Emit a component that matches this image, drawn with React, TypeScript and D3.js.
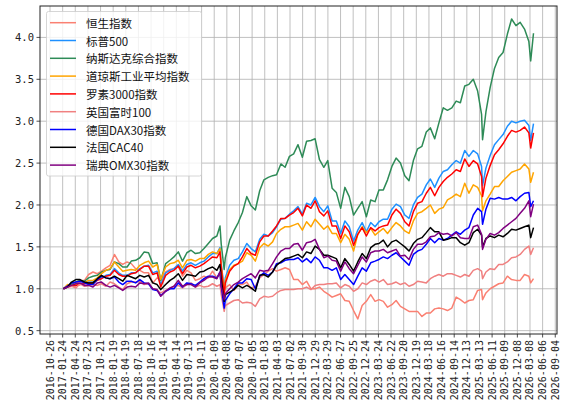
import * as d3 from 'd3';
import React from 'react';

// sample dates (month ends plus a few turning points)
const dates = [
  '2017-01-30', '2017-02-28', '2017-03-28', '2017-04-28', '2017-05-28', '2017-06-28', '2017-07-28', '2017-08-28', '2017-09-28', '2017-10-28', '2017-11-28', '2017-12-28',
  '2018-01-28', '2018-02-28', '2018-03-28', '2018-04-28', '2018-05-28', '2018-06-28', '2018-07-28', '2018-08-28', '2018-09-28', '2018-10-28', '2018-11-28', '2018-12-24',
  '2019-01-28', '2019-02-28', '2019-03-28', '2019-04-28', '2019-05-28', '2019-06-28', '2019-07-28', '2019-08-28', '2019-09-28', '2019-10-28', '2019-11-28', '2019-12-28',
  '2020-01-28', '2020-02-19', '2020-02-28', '2020-03-20', '2020-03-28', '2020-04-28', '2020-05-28', '2020-06-28', '2020-07-28', '2020-08-28', '2020-09-28', '2020-10-28', '2020-11-28', '2020-12-28',
  '2021-01-28', '2021-02-28', '2021-03-28', '2021-04-28', '2021-05-28', '2021-06-28', '2021-07-28', '2021-08-28', '2021-09-28', '2021-10-28', '2021-11-28', '2021-12-28',
  '2022-01-28', '2022-02-28', '2022-03-28', '2022-04-28', '2022-05-28', '2022-06-28', '2022-07-28', '2022-08-28', '2022-09-28', '2022-10-28', '2022-11-28', '2022-12-28',
  '2023-01-28', '2023-02-28', '2023-03-28', '2023-04-28', '2023-05-28', '2023-06-28', '2023-07-28', '2023-08-28', '2023-09-28', '2023-10-28', '2023-11-28', '2023-12-28',
  '2024-01-28', '2024-02-28', '2024-03-28', '2024-04-28', '2024-05-28', '2024-06-28', '2024-07-28', '2024-08-28', '2024-09-28', '2024-10-28', '2024-11-28', '2024-12-28',
  '2025-01-28', '2025-02-28', '2025-03-28', '2025-04-04', '2025-04-28', '2025-05-28', '2025-06-28', '2025-07-28', '2025-08-28', '2025-09-28', '2025-10-28', '2025-11-28', '2025-12-28',
  '2026-01-28', '2026-02-28', '2026-03-13', '2026-04-02',
];

const hangSeng = [
  1.00, 1.02, 1.03, 1.05, 1.10, 1.10, 1.17, 1.20, 1.18, 1.21, 1.25, 1.28,
  1.41, 1.32, 1.29, 1.32, 1.30, 1.24, 1.22, 1.19, 1.19, 1.07, 1.13, 1.10,
  1.20, 1.23, 1.24, 1.27, 1.15, 1.22, 1.19, 1.10, 1.12, 1.15, 1.13, 1.21,
  1.13, 1.18, 1.12, 0.95, 1.01, 1.05, 0.98, 1.05, 1.05, 1.08, 1.00, 1.03, 1.13, 1.17,
  1.21, 1.24, 1.21, 1.23, 1.25, 1.23, 1.11, 1.11, 1.05, 1.09, 1.00, 1.00,
  1.02, 0.97, 0.94, 0.90, 0.92, 0.94, 0.86, 0.85, 0.74, 0.64, 0.80, 0.85,
  0.93, 0.85, 0.87, 0.85, 0.78, 0.81, 0.86, 0.79, 0.76, 0.73, 0.73, 0.73,
  0.67, 0.71, 0.71, 0.76, 0.77, 0.76, 0.74, 0.77, 0.90, 0.87, 0.83, 0.86,
  0.87, 0.98, 0.99, 0.87, 0.95, 1.00, 1.03, 1.06, 1.07, 1.15, 1.11, 1.10, 1.10,
  1.17, 1.15, 1.07, 1.12,
];

const sp500 = [
  1.00, 1.04, 1.04, 1.05, 1.06, 1.06, 1.08, 1.08, 1.11, 1.13, 1.16, 1.17,
  1.24, 1.19, 1.16, 1.16, 1.19, 1.19, 1.24, 1.27, 1.28, 1.19, 1.21, 1.05,
  1.19, 1.22, 1.24, 1.29, 1.21, 1.29, 1.31, 1.28, 1.31, 1.33, 1.38, 1.42,
  1.42, 1.49, 1.30, 1.00, 1.13, 1.28, 1.34, 1.36, 1.44, 1.54, 1.48, 1.44, 1.59, 1.65,
  1.63, 1.67, 1.74, 1.83, 1.84, 1.89, 1.93, 1.98, 1.89, 2.02, 2.00, 2.09,
  1.98, 1.92, 1.99, 1.81, 1.81, 1.66, 1.81, 1.74, 1.57, 1.70, 1.79, 1.68,
  1.79, 1.74, 1.80, 1.83, 1.83, 1.95, 2.01, 1.98, 1.88, 1.84, 2.00, 2.09,
  2.13, 2.24, 2.31, 2.21, 2.32, 2.40, 2.42, 2.48, 2.53, 2.50, 2.65, 2.58,
  2.65, 2.61, 2.46, 2.23, 2.44, 2.59, 2.72, 2.78, 2.84, 2.94, 3.00, 2.98, 3.00,
  3.01, 2.95, 2.77, 2.97,
];

const nasdaq = [
  1.00, 1.04, 1.05, 1.08, 1.10, 1.09, 1.13, 1.15, 1.16, 1.20, 1.22, 1.23,
  1.32, 1.30, 1.26, 1.26, 1.33, 1.34, 1.37, 1.44, 1.43, 1.30, 1.31, 1.10,
  1.30, 1.34, 1.38, 1.44, 1.33, 1.43, 1.46, 1.42, 1.43, 1.48, 1.54, 1.60,
  1.63, 1.75, 1.53, 1.23, 1.37, 1.58, 1.69, 1.79, 1.91, 2.10, 1.99, 1.94, 2.17, 2.30,
  2.33, 2.35, 2.36, 2.49, 2.45, 2.58, 2.61, 2.72, 2.57, 2.76, 2.77, 2.79,
  2.54, 2.45, 2.53, 2.20, 2.15, 1.96, 2.21, 2.10, 1.88, 1.96, 2.04, 1.86,
  2.06, 2.04, 2.18, 2.18, 2.30, 2.46, 2.56, 2.50, 2.35, 2.29, 2.53, 2.67,
  2.70, 2.87, 2.92, 2.79, 2.98, 3.16, 3.13, 3.16, 3.24, 3.22, 3.42, 3.44,
  3.50, 3.36, 3.08, 2.78, 3.11, 3.40, 3.63, 3.76, 3.82, 4.04, 4.22, 4.14, 4.18,
  4.10, 3.95, 3.72, 4.05,
];

const dowJones = [
  1.00, 1.05, 1.04, 1.05, 1.06, 1.07, 1.10, 1.10, 1.13, 1.18, 1.22, 1.24,
  1.32, 1.26, 1.21, 1.22, 1.23, 1.22, 1.28, 1.31, 1.33, 1.26, 1.29, 1.11,
  1.26, 1.30, 1.31, 1.34, 1.25, 1.34, 1.35, 1.33, 1.36, 1.36, 1.41, 1.44,
  1.42, 1.48, 1.28, 0.97, 1.10, 1.23, 1.28, 1.30, 1.33, 1.43, 1.40, 1.33, 1.49, 1.54,
  1.51, 1.56, 1.66, 1.71, 1.74, 1.74, 1.76, 1.78, 1.70, 1.80, 1.74, 1.83,
  1.77, 1.71, 1.75, 1.66, 1.66, 1.55, 1.65, 1.59, 1.45, 1.65, 1.74, 1.67,
  1.72, 1.64, 1.68, 1.72, 1.66, 1.73, 1.79, 1.75, 1.69, 1.66, 1.81, 1.90,
  1.92, 1.96, 2.00, 1.90, 1.95, 1.97, 2.06, 2.09, 2.13, 2.10, 2.26, 2.14,
  2.24, 2.21, 2.11, 1.93, 2.05, 2.13, 2.22, 2.22, 2.29, 2.34, 2.39, 2.41, 2.43,
  2.49, 2.43, 2.27, 2.39,
];

const russell3000 = [
  1.00, 1.03, 1.03, 1.04, 1.05, 1.06, 1.07, 1.07, 1.10, 1.12, 1.15, 1.16,
  1.22, 1.17, 1.15, 1.15, 1.18, 1.19, 1.23, 1.27, 1.27, 1.17, 1.19, 1.02,
  1.16, 1.20, 1.22, 1.27, 1.18, 1.26, 1.28, 1.25, 1.27, 1.30, 1.34, 1.38,
  1.37, 1.44, 1.25, 0.93, 1.07, 1.21, 1.27, 1.30, 1.38, 1.48, 1.42, 1.40, 1.56, 1.63,
  1.63, 1.69, 1.75, 1.84, 1.84, 1.88, 1.91, 1.96, 1.87, 2.00, 1.96, 2.05,
  1.92, 1.87, 1.93, 1.75, 1.75, 1.60, 1.75, 1.68, 1.52, 1.65, 1.73, 1.63,
  1.73, 1.69, 1.73, 1.75, 1.76, 1.88, 1.95, 1.90, 1.80, 1.75, 1.92, 2.02,
  2.04, 2.14, 2.21, 2.11, 2.21, 2.28, 2.33, 2.37, 2.42, 2.40, 2.55, 2.46,
  2.53, 2.49, 2.34, 2.10, 2.32, 2.47, 2.60, 2.66, 2.73, 2.82, 2.89, 2.87, 2.89,
  2.93, 2.86, 2.68, 2.86,
];

const ftse100 = [
  1.00, 1.02, 1.03, 1.01, 1.06, 1.03, 1.04, 1.05, 1.04, 1.06, 1.03, 1.08,
  1.06, 1.02, 0.99, 1.06, 1.08, 1.08, 1.09, 1.05, 1.06, 1.00, 0.98, 0.95,
  0.98, 1.00, 1.03, 1.04, 1.01, 1.05, 1.07, 1.02, 1.04, 1.02, 1.03, 1.06,
  1.03, 1.05, 0.93, 0.73, 0.80, 0.83, 0.86, 0.87, 0.83, 0.84, 0.83, 0.79, 0.88, 0.91,
  0.90, 0.91, 0.95, 0.98, 0.99, 0.99, 0.99, 1.00, 1.00, 1.02, 0.99, 1.04,
  1.05, 1.05, 1.06, 1.06, 1.07, 1.01, 1.05, 1.03, 0.97, 1.00, 1.07, 1.05,
  1.09, 1.11, 1.08, 1.11, 1.05, 1.06, 1.08, 1.05, 1.07, 1.03, 1.05, 1.09,
  1.08, 1.07, 1.12, 1.15, 1.17, 1.15, 1.18, 1.18, 1.16, 1.14, 1.17, 1.15,
  1.22, 1.24, 1.21, 1.12, 1.20, 1.24, 1.23, 1.29, 1.29, 1.32, 1.37, 1.38, 1.41,
  1.47, 1.51, 1.41, 1.49,
];

const dax30 = [
  1.00, 1.03, 1.07, 1.08, 1.09, 1.07, 1.05, 1.05, 1.11, 1.15, 1.13, 1.12,
  1.14, 1.08, 1.05, 1.09, 1.09, 1.07, 1.11, 1.07, 1.06, 0.99, 0.98, 0.92,
  0.97, 1.00, 1.00, 1.07, 1.02, 1.07, 1.06, 1.04, 1.08, 1.12, 1.15, 1.15,
  1.13, 1.20, 1.03, 0.77, 0.86, 0.94, 1.00, 1.07, 1.07, 1.12, 1.11, 1.00, 1.15, 1.19,
  1.16, 1.20, 1.30, 1.31, 1.34, 1.35, 1.35, 1.37, 1.32, 1.36, 1.31, 1.38,
  1.34, 1.25, 1.25, 1.22, 1.25, 1.11, 1.17, 1.11, 1.05, 1.15, 1.25, 1.21,
  1.31, 1.33, 1.35, 1.38, 1.36, 1.40, 1.43, 1.38, 1.33, 1.28, 1.41, 1.45,
  1.47, 1.53, 1.60, 1.55, 1.60, 1.58, 1.60, 1.64, 1.68, 1.65, 1.70, 1.73,
  1.88, 1.96, 1.92, 1.77, 1.95, 2.08, 2.07, 2.09, 2.07, 2.07, 2.09, 2.05, 2.10,
  2.14, 2.15, 1.98, 2.05,
];

const cac40 = [
  1.00, 1.02, 1.08, 1.11, 1.11, 1.08, 1.07, 1.07, 1.12, 1.16, 1.13, 1.12,
  1.15, 1.12, 1.09, 1.16, 1.14, 1.12, 1.16, 1.14, 1.16, 1.07, 1.05, 0.99,
  1.05, 1.10, 1.13, 1.18, 1.10, 1.17, 1.16, 1.15, 1.20, 1.21, 1.24, 1.26,
  1.22, 1.29, 1.12, 0.85, 0.93, 0.96, 0.99, 1.04, 1.01, 1.04, 1.01, 0.97, 1.16, 1.17,
  1.14, 1.20, 1.28, 1.32, 1.36, 1.37, 1.39, 1.41, 1.37, 1.44, 1.42, 1.51,
  1.47, 1.40, 1.40, 1.38, 1.36, 1.25, 1.36, 1.29, 1.21, 1.32, 1.42, 1.36,
  1.49, 1.53, 1.54, 1.58, 1.50, 1.56, 1.58, 1.54, 1.50, 1.45, 1.54, 1.59,
  1.61, 1.67, 1.73, 1.68, 1.68, 1.58, 1.59, 1.61, 1.61, 1.55, 1.52, 1.55,
  1.67, 1.71, 1.64, 1.50, 1.60, 1.63, 1.61, 1.64, 1.62, 1.66, 1.71, 1.70, 1.72,
  1.74, 1.76, 1.61, 1.73,
];

const omx30 = [
  1.00, 1.02, 1.04, 1.06, 1.07, 1.04, 1.04, 1.02, 1.07, 1.08, 1.04, 1.02,
  1.04, 1.01, 0.98, 1.02, 1.03, 1.02, 1.07, 1.06, 1.07, 1.00, 0.99, 0.91,
  0.97, 1.01, 1.03, 1.10, 1.03, 1.05, 1.05, 1.02, 1.07, 1.10, 1.14, 1.14,
  1.12, 1.20, 1.03, 0.87, 0.94, 1.00, 1.05, 1.08, 1.12, 1.15, 1.18, 1.13, 1.22, 1.21,
  1.22, 1.30, 1.38, 1.45, 1.48, 1.48, 1.53, 1.54, 1.46, 1.55, 1.56, 1.59,
  1.47, 1.37, 1.39, 1.34, 1.33, 1.21, 1.32, 1.24, 1.18, 1.28, 1.38, 1.32,
  1.43, 1.45, 1.45, 1.47, 1.43, 1.45, 1.47, 1.39, 1.40, 1.35, 1.47, 1.53,
  1.53, 1.56, 1.62, 1.63, 1.67, 1.65, 1.66, 1.63, 1.67, 1.61, 1.60, 1.60,
  1.74, 1.76, 1.65, 1.47, 1.59, 1.66, 1.64, 1.67, 1.72, 1.76, 1.80, 1.84, 1.90,
  1.96, 2.05, 1.86, 2.01,
];

const seriesNames = ['恒生指数', '标普500', '纳斯达克综合指数', '道琼斯工业平均指数', '罗素3000指数', '英国富时100', '德国DAX30指数', '法国CAC40', '瑞典OMX30指数'];
const seriesValues = [hangSeng, sp500, nasdaq, dowJones, russell3000, ftse100, dax30, cac40, omx30];
const seriesColors = ['#fa8072', '#1e90ff', '#2e8b57', '#ffa500', '#ff0000', '#f08080', '#0000ff', '#000000', '#800080'];

const yTicks = [0.5, 1.0, 1.5, 2.0, 2.5, 3.0, 3.5, 4.0];
const xTickStart = '2016-10-26';
const xTickStepDays = 90;
const xTickCount = 41;

const W = 568;
const H = 410;
const margin = { top: 6, right: 11, bottom: 76, left: 40 };

const App: React.FC = () => {
  const parse = d3.utcParse('%Y-%m-%d');
  const fmt = d3.utcFormat('%Y-%m-%d');
  const times = dates.map(d => parse(d) as Date);

  const [t0, t1] = d3.extent(times) as [Date, Date];
  const pad = (t1.getTime() - t0.getTime()) * 0.05;
  const x = d3.scaleUtc()
    .domain([new Date(t0.getTime() - pad), new Date(t1.getTime() + pad)])
    .range([margin.left, W - margin.right]);

  const y = d3.scaleLinear()
    .domain([0.46, 4.375])
    .range([H - margin.bottom, margin.top]);

  const xTicks = d3.range(xTickCount).map(k => d3.utcDay.offset(parse(xTickStart) as Date, k * xTickStepDays));

  const line = d3.line<number>()
    .x((_, i) => x(times[i]))
    .y(v => y(v));

  const left = margin.left;
  const right = W - margin.right;
  const top = margin.top;
  const bottom = H - margin.bottom;
  const tickFont = '"DejaVu Sans Mono", monospace';

  return (
    <svg width={W} height={H} style={{ position: 'absolute', left: 0, top: 0, background: '#fff' }}>
      <rect x={0} y={0} width={W} height={H} fill="#fff" />
      {/* grid */}
      <g stroke="#b0b0b0" strokeWidth={0.8}>
        {xTicks.map((t, i) => (
          <line key={'gx' + i} x1={x(t)} x2={x(t)} y1={top} y2={bottom} />
        ))}
        {yTicks.map(v => (
          <line key={'gy' + v} x1={left} x2={right} y1={y(v)} y2={y(v)} />
        ))}
      </g>

      {/* series */}
      <g fill="none" strokeWidth={1.5} strokeLinejoin="round">
        {seriesValues.map((vals, i) => (
          <path key={seriesNames[i]} d={line(vals) || ''} stroke={seriesColors[i]} />
        ))}
      </g>

      {/* frame */}
      <rect x={left} y={top} width={right - left} height={bottom - top} fill="none" stroke="#222" strokeWidth={1} />

      {/* y axis */}
      <g>
        {yTicks.map(v => (
          <g key={'yt' + v}>
            <line x1={left - 3.5} x2={left} y1={y(v)} y2={y(v)} stroke="#222" strokeWidth={0.8} />
            <text x={left - 6} y={y(v)} textAnchor="end" dominantBaseline="central"
              fontFamily={tickFont} fontSize={10.5} fill="#222">{v.toFixed(1)}</text>
          </g>
        ))}
      </g>

      {/* x axis */}
      <g>
        {xTicks.map((t, i) => (
          <g key={'xt' + i}>
            <line x1={x(t)} x2={x(t)} y1={bottom} y2={bottom + 3.5} stroke="#222" strokeWidth={0.8} />
            <text transform={`translate(${x(t)},${bottom + 6}) rotate(-90)`} textAnchor="end" dominantBaseline="central"
              fontFamily={tickFont} fontSize={10} fill="#222">{fmt(t)}</text>
          </g>
        ))}
      </g>

      {/* legend */}
      <g>
        <rect x={46.5} y={11.5} width={155} height={164.5} rx={2} fill="#fff" fillOpacity={0.8} stroke="#cccccc" strokeWidth={0.8} />
        {seriesNames.map((name, i) => {
          const ly = 22.7 + i * 17.8;
          return (
            <g key={'lg' + i}>
              <line x1={50} x2={76} y1={ly} y2={ly} stroke={seriesColors[i]} strokeWidth={1.5} />
              <text x={86} y={ly} dominantBaseline="central" fontFamily='"Noto Sans CJK SC", sans-serif' fontSize={11.5} fill="#111">{name}</text>
            </g>
          );
        })}
      </g>
    </svg>
  );
};

export default App;
